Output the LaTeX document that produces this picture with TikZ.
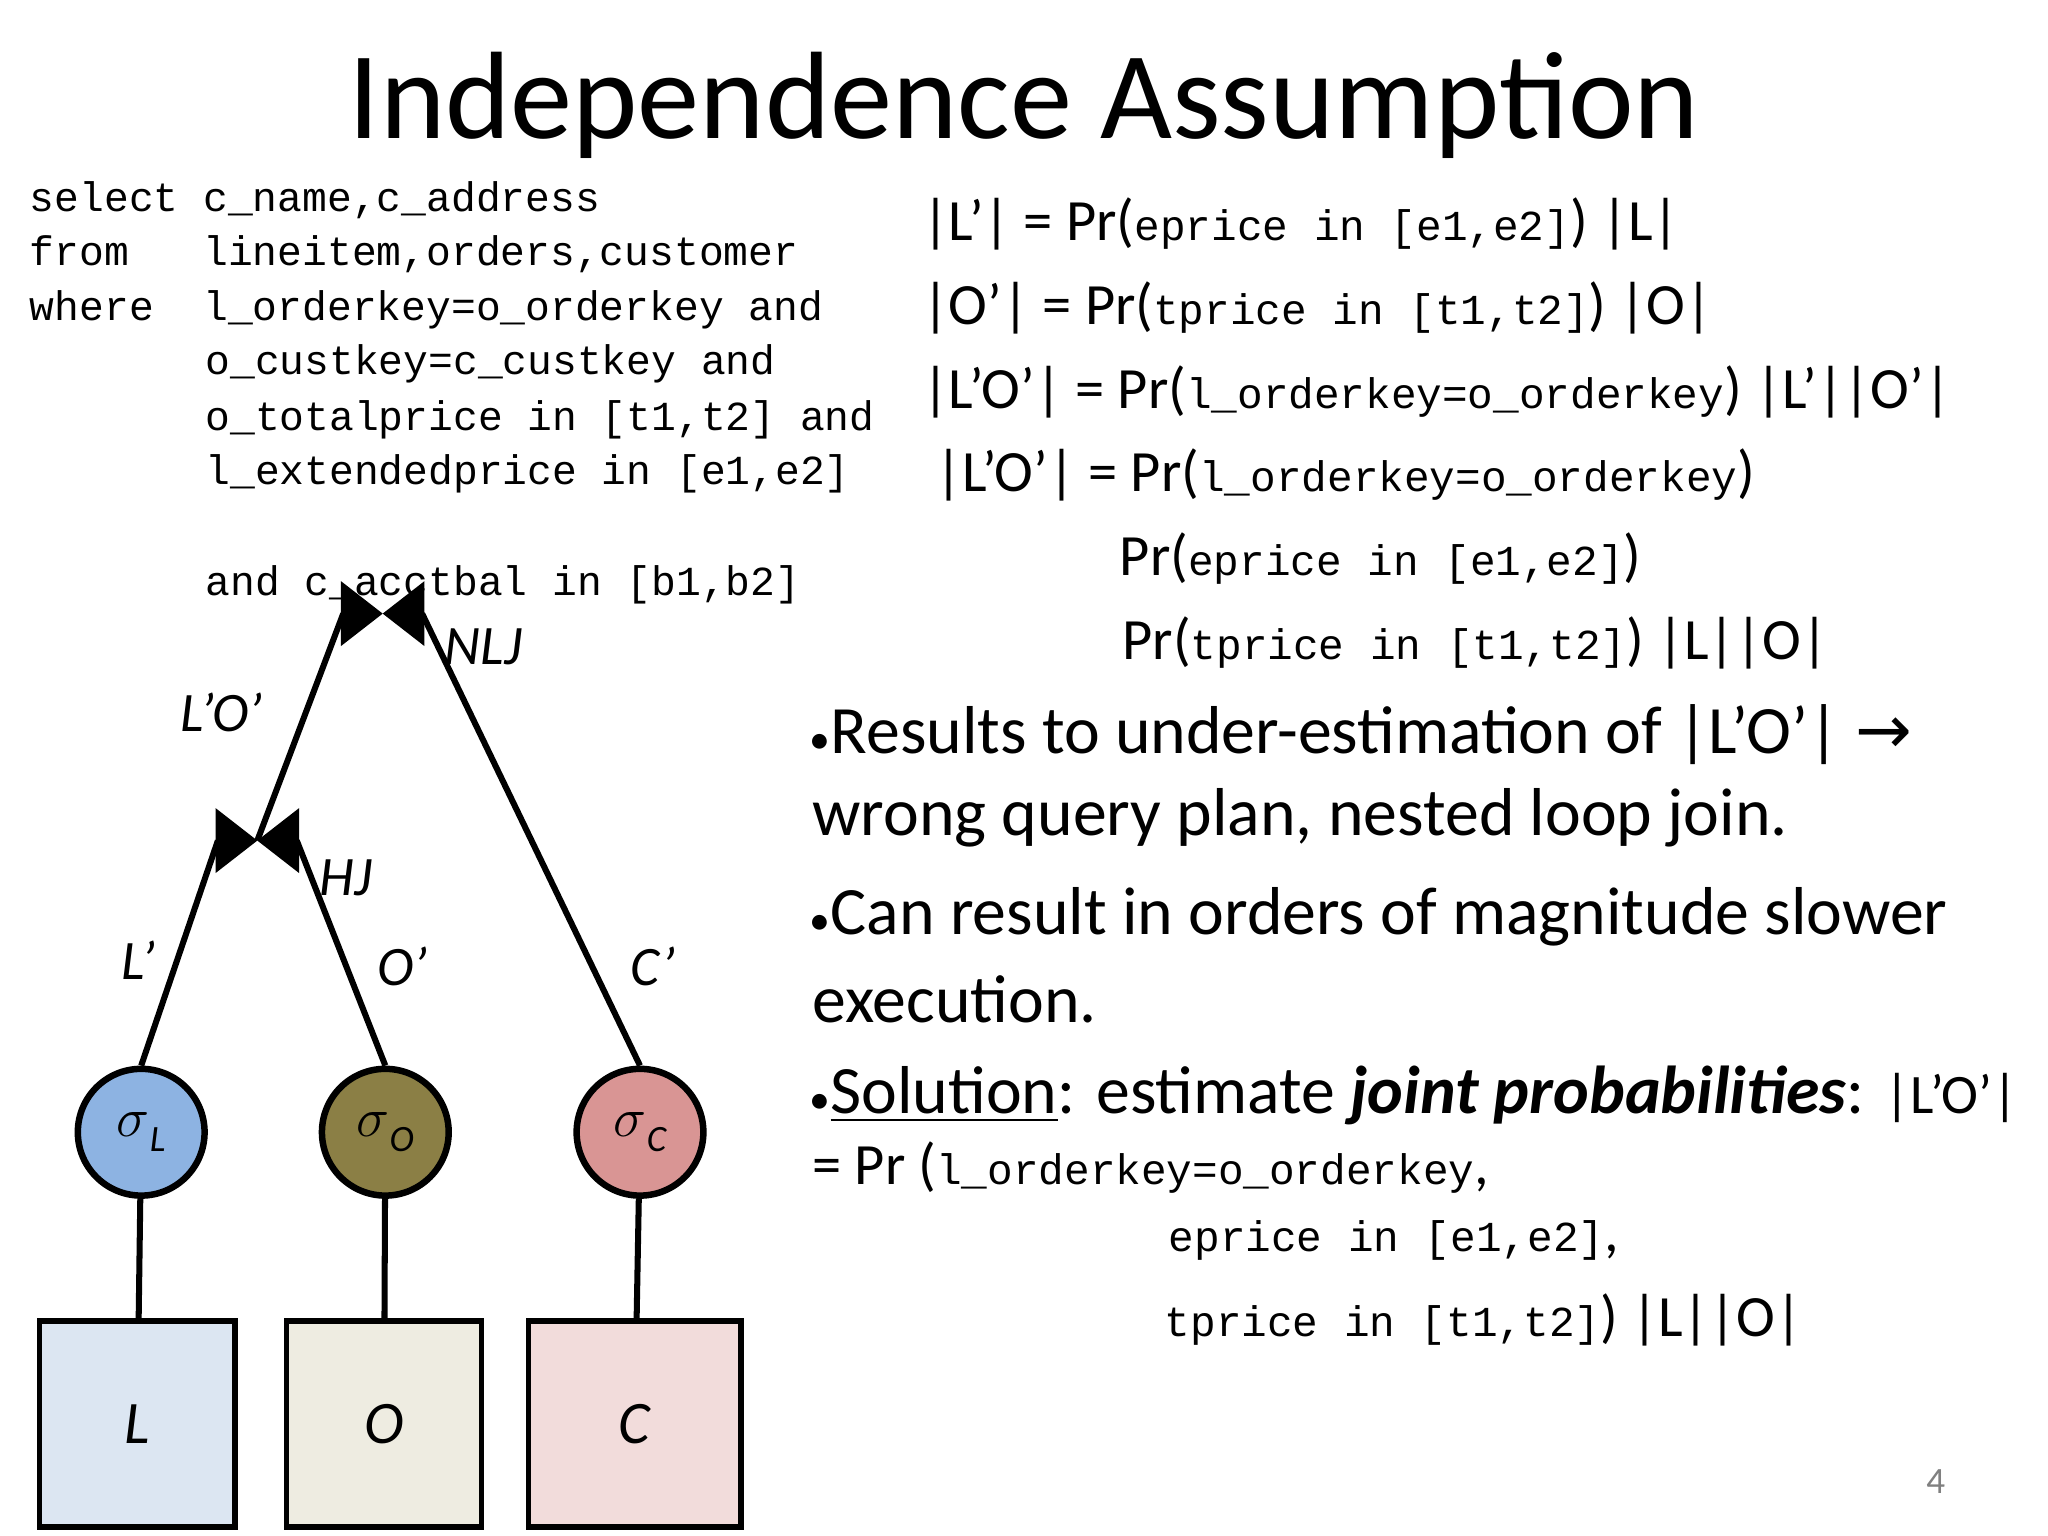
\documentclass[tikz,border=0pt]{standalone}
\usepackage{fontspec}
\setmainfont{Carlito}
\setmonofont{Liberation Mono}
\newfontfamily\dejavu{DejaVu Sans}
\newcommand{\mt}[1]{{\fontsize{9.2}{10}\ttfamily #1}}
\begin{document}
\begin{tikzpicture}[x=0.01cm,y=-0.01cm,
  sql/.style={anchor=west,inner sep=0,font=\fontsize{8.9}{11}\ttfamily},
  frm/.style={anchor=west,inner sep=0,font=\fontsize{12.6}{15}\selectfont},
  body/.style={anchor=west,inner sep=0,font=\fontsize{14.6}{17}\selectfont},
  lab/.style={inner sep=0,font=\fontsize{12}{14}\itshape},
  sel/.style={circle,draw,line width=1.4pt,minimum size=0.96cm,inner sep=0,font=\fontsize{13}{14}\itshape},
  rel/.style={draw,line width=1.2pt,minimum width=1.48cm,minimum height=1.56cm,inner sep=0,font=\fontsize{13}{14}\itshape},
  edge/.style={line width=1.3pt}]
\useasboundingbox (0,0) rectangle (1552,1164);
\fill[white] (0,0) rectangle (1552,1164);
\node[inner sep=0,font=\fontsize{26.8}{30}\selectfont] (title) at (776,80) {Independence Assumption};
% SQL
\node[sql] (s1) at (22,152) {select c\_name,c\_address};
\node[sql] (s2) at (22,193) {from\ \ \ lineitem,orders,customer};
\node[sql] (s3) at (22,235) {where\ \ l\_orderkey=o\_orderkey and};
\node[sql] (s4) at (155,276) {o\_custkey=c\_custkey and};
\node[sql] (s5) at (155,318) {o\_totalprice in [t1,t2] and};
\node[sql] (s6) at (155,359) {l\_extendedprice in [e1,e2]};
\node[sql] (s7) at (155,443) {and c\_acctbal in [b1,b2]};
% formulas
\node[frm] (f1) at (698,170) {|L’| = Pr(\mt{eprice in [e1,e2]}) |L|};
\node[frm] (f2) at (698,233) {|O’| = Pr(\mt{tprice in [t1,t2]}) |O|};
\node[frm] (f3) at (698,297) {|L’O’| = Pr(\mt{l\_orderkey=o\_orderkey}) |L’||O’|};
\node[frm] (f4) at (708,360) {|L’O’| = Pr(\mt{l\_orderkey=o\_orderkey})};
\node[frm] (f5) at (848,423) {Pr(\mt{eprice in [e1,e2]})};
\node[frm] (f6) at (850,487) {Pr(\mt{tprice in [t1,t2]}) |L||O|};
% bullets
\node[body] (b1) at (613,557) {{\small•}Results to under-estimation of |L’O’| {\dejavu →}};
\node[body] (b2) at (615,620) {wrong query plan, nested loop join.};
\node[body] (b3) at (613,695) {{\small•}Can result in orders of magnitude slower};
\node[body] (b4) at (615,757) {execution.};
\node[body] (b5) at (613,830) {{\small•}\underline{Solution}: estimate \textbf{\textit{joint probabilities}}: {\fontsize{12}{13}\selectfont|L’O’|}};
\node[frm] (b6) at (615,885) {= Pr (\mt{l\_orderkey=o\_orderkey},};
\node[frm] (b7) at (885,940) {\mt{eprice in [e1,e2]},};
\node[frm] (b8) at (882,1000) {\mt{tprice in [t1,t2]}) |L||O|};
\node[inner sep=0,text=gray,font=\fontsize{8}{9}\selectfont] (pg) at (1467,1123) {4};
% tree
\node[rel,fill={rgb,255:red,220;green,230;blue,242}] (L) at (104,1079) {L};
\node[rel,fill={rgb,255:red,238;green,236;blue,225}] (O) at (291,1079) {O};
\node[rel,fill={rgb,255:red,242;green,220;blue,219},minimum width=1.61cm] (C) at (481,1079) {C};
\node[sel,fill={rgb,255:red,141;green,179;blue,226}] (sL) at (107,858) {$\sigma$\raisebox{-0.5ex}{\footnotesize L}};
\node[sel,fill={rgb,255:red,139;green,127;blue,69}] (sO) at (292,858) {$\sigma$\raisebox{-0.5ex}{\footnotesize O}};
\node[sel,fill={rgb,255:red,217;green,149;blue,148}] (sC) at (485,858) {$\sigma$\raisebox{-0.5ex}{\footnotesize C}};
\coordinate (hj) at (195,637);
\coordinate (nlj) at (290,465);
\foreach \c in {hj,nlj}{
  \fill ([shift={(-9pt,7pt)}]\c) -- (\c) -- ([shift={(-9pt,-7pt)}]\c) -- cycle;
  \fill ([shift={(9pt,7pt)}]\c) -- (\c) -- ([shift={(9pt,-7pt)}]\c) -- cycle;
}
\draw[edge] (sL) -- (L);
\draw[edge] (sO) -- (O);
\draw[edge] (sC) -- (C);
\draw[edge] (sL.north) -- ([xshift=-8.5pt]hj);
\draw[edge] (sO.north) -- ([xshift=8.5pt]hj);
\draw[edge] (hj) -- ([xshift=-8.5pt]nlj);
\draw[edge] (sC.north) -- ([xshift=8.5pt]nlj);
\node[lab] (lo) at (168,540) {L’O’};
\node[lab] (nl) at (366,490) {NLJ};
\node[lab] (hjl) at (262,665) {HJ};
\node[lab] (lp) at (105,728) {L’};
\node[lab] (op) at (305,732) {O’};
\node[lab] (cp) at (495,732) {C’};
\end{tikzpicture}
\end{document}
